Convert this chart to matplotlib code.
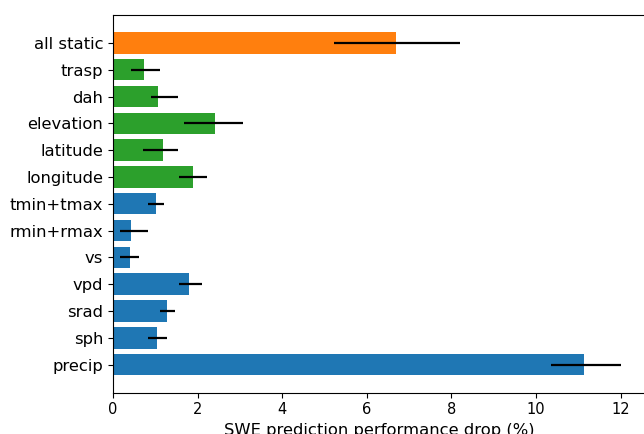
import matplotlib
matplotlib.use("Agg")
import matplotlib.pyplot as plt
import numpy as np

# top to bottom as shown in the chart
labels = ["all static", "trasp", "dah", "elevation", "latitude", "longitude",
          "tmin+tmax", "rmin+rmax", "vs", "vpd", "srad", "sph", "precip"]
drop = [6.69, 0.74, 1.07, 2.41, 1.19, 1.90, 1.02, 0.43, 0.41, 1.80, 1.27, 1.05, 11.13]
err_lo = [1.47, 0.31, 0.18, 0.72, 0.49, 0.33, 0.19, 0.27, 0.25, 0.24, 0.15, 0.22, 0.78]
err_hi = [1.51, 0.38, 0.46, 0.66, 0.34, 0.32, 0.18, 0.40, 0.21, 0.30, 0.20, 0.23, 0.87]
groups = ["all", "static", "static", "static", "static", "static",
          "dyn", "dyn", "dyn", "dyn", "dyn", "dyn", "dyn"]
group_colors = {"all": "C1", "static": "C2", "dyn": "C0"}

colors = [group_colors[g] for g in groups]
y = np.arange(len(labels))

fig = plt.figure(figsize=(6.44, 4.34), dpi=100)
ax = fig.add_axes([113 / 644, 41.5 / 434, 533 / 644, 377.5 / 434])

ax.barh(y, drop, color=colors, xerr=[err_lo, err_hi],
        error_kw=dict(ecolor="black", elinewidth=1.6, capsize=0))
ax.set_yticks(y)
ax.set_yticklabels(labels, fontsize=11.8)
ax.invert_yaxis()
ax.set_xlim(0, 12.6)
ax.set_xticks([0, 2, 4, 6, 8, 10, 12])
ax.tick_params(axis="x", labelsize=10.5)
ax.set_xlabel("SWE prediction performance drop (%)", fontsize=11.8)

fig.savefig("out.png", dpi=100)
